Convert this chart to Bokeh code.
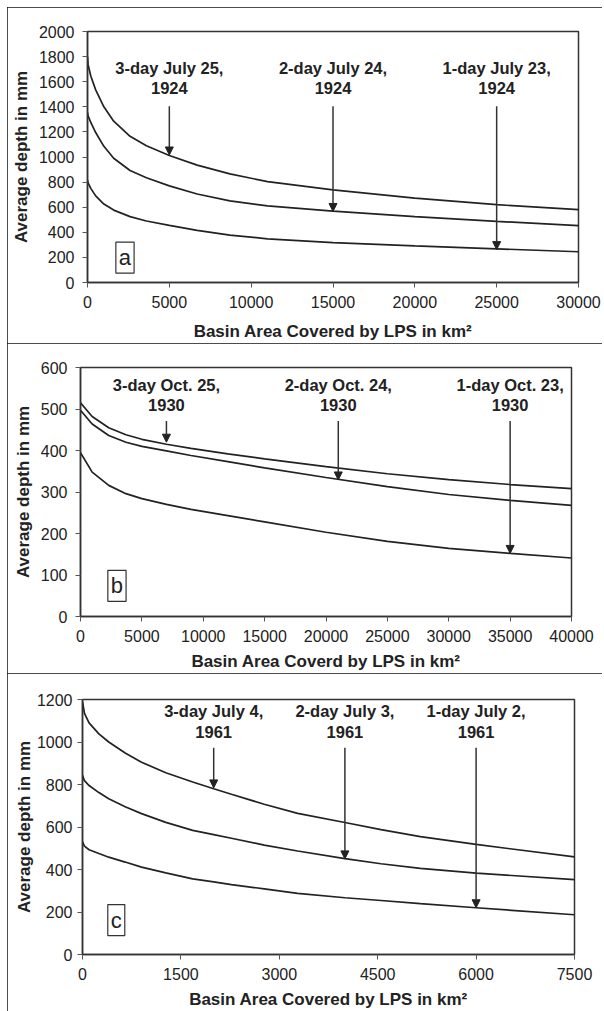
from bokeh.plotting import figure
from bokeh.models import Range1d, FixedTicker, Label, Arrow, NormalHead, ColumnDataSource
from bokeh.embed import file_html
from bokeh.resources import INLINE
from bokeh.core.properties import value

FONT = "Liberation Sans"
INK = "#222222"

# ---------------- Panel a (July 1924) ----------------
a_area = [0, 30, 200, 500, 1000, 1600, 2600, 3600, 5000, 6700, 8700, 11000, 15000, 20000, 25000, 30000]
a_3day = [1800, 1740, 1645, 1535, 1400, 1285, 1165, 1090, 1012, 935, 865, 804, 738, 672, 620, 580]
a_2day = [1355, 1330, 1275, 1195, 1085, 990, 892, 835, 770, 705, 650, 610, 568, 525, 487, 453]
a_1day = [818, 795, 750, 690, 625, 577, 525, 490, 455, 416, 378, 348, 318, 292, 268, 245]
a_labels = ["3-day July 25,\n1924", "2-day July 24,\n1924", "1-day July 23,\n1924"]
a_label_x = [5000, 15000, 25000]
a_label_y = [1630, 1630, 1630]
a_arrow_top = [1405, 1405, 1405]
a_arrow_tip = [1016, 566, 262]
a_xticks = [0, 5000, 10000, 15000, 20000, 25000, 30000]
a_yticks = [0, 200, 400, 600, 800, 1000, 1200, 1400, 1600, 1800, 2000]

# ---------------- Panel b (October 1930) ----------------
b_area = [0, 950, 2300, 3700, 5000, 7000, 9000, 12000, 15000, 20000, 25000, 30000, 35000, 40000]
b_3day = [515, 482, 455, 438, 427, 415, 405, 392, 380, 361, 344, 330, 318, 308]
b_2day = [497, 464, 436, 420, 410, 399, 388, 373, 358, 335, 313, 294, 280, 268]
b_1day = [395, 348, 316, 296, 284, 270, 258, 243, 228, 203, 181, 164, 152, 141]
b_labels = ["3-day Oct. 25,\n1930", "2-day Oct. 24,\n1930", "1-day Oct. 23,\n1930"]
b_label_x = [7000, 21000, 35000]
b_label_y = [534, 534, 534]
b_arrow_top = [471, 471, 471]
b_arrow_tip = [420, 329, 152]
b_xticks = [0, 5000, 10000, 15000, 20000, 25000, 30000, 35000, 40000]
b_yticks = [0, 100, 200, 300, 400, 500, 600]

# ---------------- Panel c (July 1961) ----------------
c_area = [0, 30, 100, 250, 400, 650, 900, 1270, 1680, 2000, 2270, 2770, 3280, 4000, 4550, 5150, 6000, 7500]
c_3day = [1190, 1135, 1090, 1038, 1000, 948, 905, 855, 812, 780, 754, 707, 664, 621, 588, 555, 518, 459]
c_2day = [843, 818, 795, 762, 733, 695, 663, 622, 584, 564, 547, 515, 487, 451, 427, 405, 383, 352]
c_1day = [530, 510, 493, 475, 458, 435, 411, 384, 356, 342, 329, 309, 288, 267, 254, 239, 220, 187]
c_labels = ["3-day July 4,\n1961", "2-day July 3,\n1961", "1-day July 2,\n1961"]
c_label_x = [2000, 4000, 6000]
c_label_y = [1096, 1096, 1096]
c_arrow_top = [973, 973, 973]
c_arrow_tip = [784, 450, 220]
c_xticks = [0, 1500, 3000, 4500, 6000, 7500]
c_yticks = [0, 200, 400, 600, 800, 1000, 1200]

Y_TITLE = "Average depth in mm"


def make_panel(area, series, labels, lx, ly, atop, atip, xticks, yticks,
               xmax, ymax, xtitle, letter, letter_xy, height, borders,
               xlabel_standoff, ystandoffs, margin):
    bl, br, bt, bb = borders
    p = figure(width=595, height=height,
               x_range=Range1d(0, xmax), y_range=Range1d(0, ymax),
               output_backend="svg", toolbar_location=None,
               min_border_left=bl, min_border_right=br,
               min_border_top=bt, min_border_bottom=bb, margin=margin)
    p.styles = {"outline": "1px solid #111", "outline-offset": "-1px"}
    p.xgrid.visible = False
    p.ygrid.visible = False
    p.outline_line_color = "#333333"
    p.outline_line_width = 1.5
    p.background_fill_color = "white"
    p.border_fill_color = "white"

    for ax in (p.xaxis[0], p.yaxis[0]):
        ax.axis_line_color = "#333333"
        ax.axis_line_width = 1.5
        ax.major_tick_line_color = "#555555"
        ax.major_tick_out = 5
        ax.major_tick_in = 0
        ax.minor_tick_line_color = None
        ax.major_label_text_font = FONT
        ax.major_label_text_font_size = "16px"
        ax.major_label_text_color = INK
        ax.axis_label_text_font = FONT
        ax.axis_label_text_font_size = "17px"
        ax.axis_label_text_font_style = "bold"
        ax.axis_label_text_color = INK

    p.xaxis[0].ticker = FixedTicker(ticks=xticks)
    p.yaxis[0].ticker = FixedTicker(ticks=yticks)
    p.xaxis[0].axis_label = xtitle
    p.yaxis[0].axis_label = Y_TITLE
    p.xaxis[0].major_label_standoff = 8
    p.xaxis[0].axis_label_standoff = xlabel_standoff
    p.yaxis[0].major_label_standoff = ystandoffs[0]
    p.yaxis[0].axis_label_standoff = ystandoffs[1]

    for ys in series:
        p.line(area, ys, line_color=INK, line_width=1.7)

    src = ColumnDataSource(dict(x=lx, y0=atop, y1=atip))
    p.add_layout(Arrow(end=NormalHead(size=8, fill_color=INK, line_color=INK, line_width=1),
                       x_start="x", y_start="y0", x_end="x", y_end="y1",
                       source=src, line_color="#333333", line_width=1.5))

    tsrc = ColumnDataSource(dict(x=lx, y=ly, t=labels))
    p.text(x="x", y="y", text="t", source=tsrc,
           text_font=value(FONT), text_font_style="bold",
           text_font_size="16.5px", text_color=INK,
           text_align="center", text_baseline="middle",
           text_line_height=1.15)

    p.add_layout(Label(x=letter_xy[0], y=letter_xy[1], text=letter,
                       text_font=FONT, text_font_size="22px", text_color=INK,
                       text_align="center", text_baseline="middle",
                       border_line_color="#333333", border_line_width=1.2,
                       background_fill_color="white", padding=3))
    return p


pa = make_panel(a_area, [a_3day, a_2day, a_1day], a_labels, a_label_x, a_label_y,
                a_arrow_top, a_arrow_tip, a_xticks, a_yticks, 30000, 2000,
                "Basin Area Covered by LPS in km\u00b2", "a", (2290, 198), 336,
                (80, 24, 24, 60), 11, (8, 5), (7, 0, 0, 7))
pb = make_panel(b_area, [b_3day, b_2day, b_1day], b_labels, b_label_x, b_label_y,
                b_arrow_top, b_arrow_tip, b_xticks, b_yticks, 40000, 600,
                "Basin Area Coverd by LPS in km\u00b2", "b", (2970, 74), 330,
                (73, 31, 24, 57), 7, (8, 5), (0, 0, 0, 7))
pc = make_panel(c_area, [c_3day, c_2day, c_1day], c_labels, c_label_x, c_label_y,
                c_arrow_top, c_arrow_tip, c_xticks, c_yticks, 7500, 1200,
                "Basin Area Covered by LPS in km\u00b2", "c", (515, 162), 338,
                (75, 28, 26, 57), 7, (5, 0), (0, 0, 0, 7))

open("out.html", "w").write(file_html([pa, pb, pc], INLINE))
